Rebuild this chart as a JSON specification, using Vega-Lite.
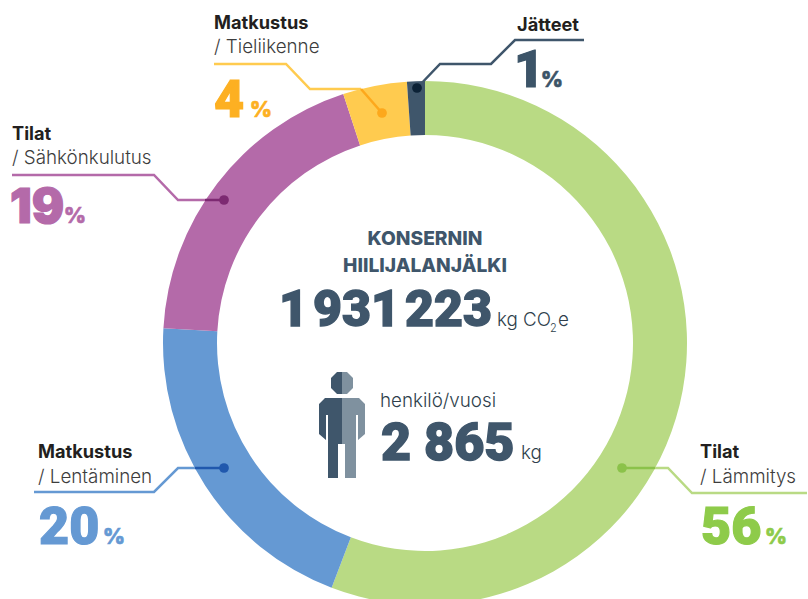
{
"$schema":"https://vega.github.io/schema/vega-lite/v6.json",
"width":808,"height":599,"autosize":{"type":"none"},"padding":0,"background":"white",
"config":{"view":{"stroke":null}},
"datasets":{
"arcs":[
{"k":"Lämmitys","share":55.8,"o":1,"x":425,"y":343},
{"k":"Lentäminen","share":20.1,"o":2,"x":425,"y":343},
{"k":"Sähkönkulutus","share":19.05,"o":3,"x":425,"y":343},
{"k":"Tieliikenne","share":3.95,"o":4,"x":425,"y":343},
{"k":"Jätteet","share":1.1,"o":5,"x":425,"y":343}],
"lines":[
{"k":"Lämmitys","o":1,"x":655,"y":468},{"k":"Lämmitys","o":2,"x":668,"y":468},{"k":"Lämmitys","o":3,"x":692,"y":493},{"k":"Lämmitys","o":4,"x":807,"y":493},
{"k":"Lentäminen","o":1,"x":34,"y":492},{"k":"Lentäminen","o":2,"x":154,"y":492},{"k":"Lentäminen","o":3,"x":178,"y":468},{"k":"Lentäminen","o":4,"x":195,"y":468},
{"k":"Sähkönkulutus","o":1,"x":12,"y":175},{"k":"Sähkönkulutus","o":2,"x":154,"y":175},{"k":"Sähkönkulutus","o":3,"x":178,"y":200},{"k":"Sähkönkulutus","o":4,"x":205,"y":200},
{"k":"Tieliikenne","o":1,"x":214,"y":64},{"k":"Tieliikenne","o":2,"x":286,"y":64},{"k":"Tieliikenne","o":3,"x":310,"y":89},{"k":"Tieliikenne","o":4,"x":361,"y":89},
{"k":"Jätteet","o":1,"x":584,"y":40},{"k":"Jätteet","o":2,"x":515,"y":40},{"k":"Jätteet","o":3,"x":491,"y":64},{"k":"Jätteet","o":4,"x":440,"y":64},{"k":"Jätteet","o":5,"x":417,"y":88}],
"inner":[
{"k":"Lämmitys p","o":1,"x":622,"y":468},{"k":"Lämmitys p","o":2,"x":655,"y":468},
{"k":"Lentäminen p","o":1,"x":195,"y":468},{"k":"Lentäminen p","o":2,"x":224,"y":468},
{"k":"Sähkönkulutus p","o":1,"x":205,"y":200},{"k":"Sähkönkulutus p","o":2,"x":224,"y":200},
{"k":"Tieliikenne p","o":1,"x":361,"y":89},{"k":"Tieliikenne p","o":2,"x":382,"y":113}],
"dots":[
{"k":"Lämmitys p","x":622,"y":468},{"k":"Lentäminen p","x":224,"y":468},{"k":"Sähkönkulutus p","x":224,"y":200},{"k":"Tieliikenne p","x":382,"y":113},{"k":"Jätteet p","x":417,"y":88}],
"person":[{"x":342,"y":425}],
"head":[
{"t":"Matkustus","x":214,"y":29},{"t":"Jätteet","x":517,"y":31},{"t":"Tilat","x":12,"y":140},{"t":"Matkustus","x":38,"y":458},{"t":"Tilat","x":700,"y":458}],
"sub":[
{"t":"/ Tieliikenne","x":214,"y":53},{"t":"/ Sähkönkulutus","x":12,"y":164},{"t":"/ Lentäminen","x":38,"y":483},{"t":"/ Lämmitys","x":700,"y":483}],
"big":[
{"t":"4","k":"Tieliikenne t","x":214,"y":117},{"t":"1","k":"Jätteet t","x":514,"y":87},{"t":"20","k":"Lentäminen t","x":39,"y":544},{"t":"56","k":"Lämmitys t","x":701,"y":544}],
"big2":[{"t":"19","k":"Sähkönkulutus t","x":10,"y":223}],
"pct":[
{"t":"%","k":"Tieliikenne t","x":250,"y":117},{"t":"%","k":"Jätteet t","x":541,"y":87},{"t":"%","k":"Sähkönkulutus t","x":64,"y":223},{"t":"%","k":"Lentäminen t","x":103,"y":544},{"t":"%","k":"Lämmitys t","x":765,"y":544}],
"title":[{"t":"KONSERNIN","x":425,"y":245},{"t":"HIILIJALANJÄLKI","x":425,"y":272}],
"total":[{"t":"1\u200a931\u200a223","x":279,"y":326}],
"person_total":[{"t":"2 865","x":381,"y":460}],
"unit":[{"t":"kg CO","x":497,"y":326},{"t":"e","x":558,"y":326},{"t":"henkilö/vuosi","x":380,"y":407},{"t":"kg","x":521,"y":459}],
"subs":[{"t":"2","x":550,"y":332}]
},
"encoding":{
"x":{"field":"x","type":"quantitative","scale":{"domain":[0,808],"nice":false,"zero":false},"axis":null},
"y":{"field":"y","type":"quantitative","scale":{"domain":[0,599],"reverse":true,"nice":false,"zero":false},"axis":null},
"color":{"field":"k","type":"nominal","legend":null,"scale":{
"domain":["Lämmitys","Lentäminen","Sähkönkulutus","Tieliikenne","Jätteet","Lämmitys p","Lentäminen p","Sähkönkulutus p","Tieliikenne p","Jätteet p","Lämmitys t","Lentäminen t","Sähkönkulutus t","Tieliikenne t","Jätteet t"],
"range":["#b9da84","#6599d3","#b46aa9","#ffcb4f","#3f566b","#8bc24a","#2058ad","#7d2a72","#fda81c","#0c2236","#8ecb4a","#6599d3","#b46aa9","#fdb022","#3c5468"]}}
},
"layer":[
{"data":{"name":"arcs"},"mark":{"type":"arc","outerRadius":262,"innerRadius":208},
 "encoding":{"theta":{"field":"share","type":"quantitative","stack":true,"scale":{"domain":[0,100],"range":[0,6.2832]}},"order":{"field":"o","type":"quantitative"}}},
{"data":{"name":"lines"},"mark":{"type":"line","strokeWidth":2.5},"encoding":{"order":{"field":"o","type":"quantitative"}}},
{"data":{"name":"inner"},"mark":{"type":"line","strokeWidth":2.5},"encoding":{"order":{"field":"o","type":"quantitative"}}},
{"data":{"name":"dots"},"mark":{"type":"circle","size":95,"opacity":1}},
{"data":{"name":"person"},"mark":{"type":"point","filled":true,"size":4,"opacity":1,"strokeWidth":0,"shape":"M-5 -53 L0 -53 L0 -31 L-5 -31 L-11 -37 L-11 -47 Z"},"encoding":{"color":{"value":"#3f566b"}}},
{"data":{"name":"person"},"mark":{"type":"point","filled":true,"size":4,"opacity":1,"strokeWidth":0,"shape":"M0 -53 L5 -53 L11 -47 L11 -37 L5 -31 L0 -31 Z"},"encoding":{"color":{"value":"#7f919f"}}},
{"data":{"name":"person"},"mark":{"type":"point","filled":true,"size":4,"opacity":1,"strokeWidth":0,"shape":"M0 -27 L-17 -27 L-23 -21 L-23 9 L-16 15 L-16 -10 L-14 -10 L-14 53 L-4 53 L-4 19 L0 19 Z"},"encoding":{"color":{"value":"#3f566b"}}},
{"data":{"name":"person"},"mark":{"type":"point","filled":true,"size":4,"opacity":1,"strokeWidth":0,"shape":"M0 -27 L17 -27 L23 -21 L23 9 L16 15 L16 -10 L14 -10 L14 53 L3 53 L3 19 L0 19 Z"},"encoding":{"color":{"value":"#7f919f"}}},
{"data":{"name":"head"},"mark":{"type":"text","align":"left","baseline":"alphabetic","font":"Inter","fontSize":18.2,"fontWeight":700},"encoding":{"text":{"field":"t"},"color":{"value":"#231f20"}}},
{"data":{"name":"sub"},"mark":{"type":"text","align":"left","baseline":"alphabetic","font":"Inter","fontSize":18.8,"fontWeight":300},"encoding":{"text":{"field":"t"},"color":{"value":"#3d3d3d"}}},
{"data":{"name":"big"},"mark":{"type":"text","align":"left","baseline":"alphabetic","font":"Roboto","fontSize":52,"fontWeight":900,"strokeWidth":1.2},"encoding":{"text":{"field":"t"},"stroke":{"field":"k","type":"nominal","legend":null,"scale":{"domain":["Lämmitys t","Lentäminen t","Sähkönkulutus t","Tieliikenne t","Jätteet t"],"range":["#8ecb4a","#6599d3","#b46aa9","#fdb022","#3c5468"]}}}},
{"data":{"name":"big2"},"mark":{"type":"text","align":"left","baseline":"alphabetic","font":"Inter","fontSize":48,"fontWeight":900,"strokeWidth":1.2},"encoding":{"text":{"field":"t"},"stroke":{"field":"k","type":"nominal","legend":null,"scale":{"domain":["Lämmitys t","Lentäminen t","Sähkönkulutus t","Tieliikenne t","Jätteet t"],"range":["#8ecb4a","#6599d3","#b46aa9","#fdb022","#3c5468"]}}}},
{"data":{"name":"pct"},"mark":{"type":"text","align":"left","baseline":"alphabetic","font":"Inter","fontSize":21,"fontWeight":900,"strokeWidth":0.5},"encoding":{"text":{"field":"t"},"stroke":{"field":"k","type":"nominal","legend":null,"scale":{"domain":["Lämmitys t","Lentäminen t","Sähkönkulutus t","Tieliikenne t","Jätteet t"],"range":["#8ecb4a","#6599d3","#b46aa9","#fdb022","#3c5468"]}}}},
{"data":{"name":"title"},"mark":{"type":"text","align":"center","baseline":"alphabetic","font":"Inter","fontSize":19.2,"fontWeight":800},"encoding":{"text":{"field":"t"},"color":{"value":"#3f566b"}}},
{"data":{"name":"total"},"mark":{"type":"text","align":"left","baseline":"alphabetic","font":"Roboto","fontSize":50,"fontWeight":900,"stroke":"#3f566b","strokeWidth":1.4},"encoding":{"text":{"field":"t"},"color":{"value":"#3f566b"}}},
{"data":{"name":"person_total"},"mark":{"type":"text","align":"left","baseline":"alphabetic","font":"Roboto","fontSize":52,"fontWeight":900,"stroke":"#3f566b","strokeWidth":1.4},"encoding":{"text":{"field":"t"},"color":{"value":"#3f566b"}}},
{"data":{"name":"unit"},"mark":{"type":"text","align":"left","baseline":"alphabetic","font":"Inter","fontSize":18.8,"fontWeight":300},"encoding":{"text":{"field":"t"},"color":{"value":"#2f3f4c"}}},
{"data":{"name":"subs"},"mark":{"type":"text","align":"left","baseline":"alphabetic","font":"Inter","fontSize":11,"fontWeight":300},"encoding":{"text":{"field":"t"},"color":{"value":"#2f3f4c"}}}
]
}
